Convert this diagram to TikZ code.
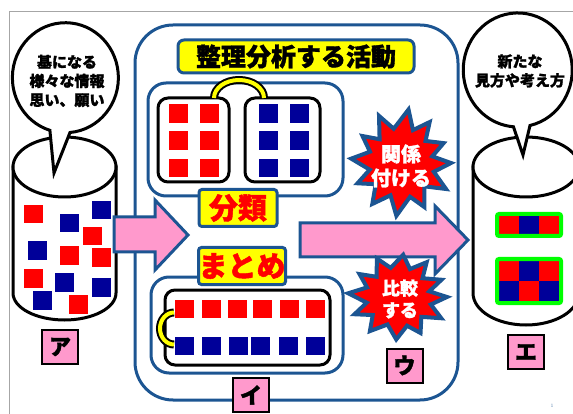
\documentclass[tikz,border=0pt]{standalone}
\usepackage{fontspec}
\newfontfamily\jp{Noto Sans CJK JP}[BoldFeatures={FakeBold=1.5}]
\definecolor{dblue}{HTML}{1C5592}
\definecolor{nblue}{HTML}{000099}
\definecolor{pinkf}{HTML}{FF99CC}
\definecolor{redf}{HTML}{FF0000}
\definecolor{greenf}{HTML}{00FF00}
\definecolor{yell}{HTML}{FFFF00}
\tikzset{
  outline/.style={draw=black,line width=3,fill=white},
  bluebox/.style={draw=dblue,line width=3,rounded corners=18},
  blackbox/.style={draw=black,line width=3,fill=white,rounded corners=10},
  redsq/.style={fill=redf},
  bluesq/.style={fill=nblue},
  yellabel/.style={draw=dblue,line width=3,fill=yell,rounded corners=3,inner sep=0,text=redf,font=\jp\bfseries\fontsize{29}{29}\selectfont},
  pinklabel/.style={draw=black,line width=2,fill=pinkf,minimum width=36,minimum height=34,inner sep=0,font=\jp\bfseries\fontsize{22}{22}\selectfont},
  bubbletext/.style={align=center,font=\jp\bfseries\fontsize{15}{19}\selectfont},
  arrowshape/.style={draw=dblue,line width=3,fill=pinkf,line join=miter},
  burst/.style={draw=dblue,line width=4,fill=redf,line join=miter},
  bursttext/.style={align=center,text=white,font=\jp\bfseries\fontsize{20}{24}\selectfont},
  handle/.style={line width=8,draw=black},
  handlein/.style={line width=4,draw=yell},
}
\begin{document}
\begin{tikzpicture}[x=1pt,y=-1pt]
\useasboundingbox (0,0) rectangle (573,414);
\clip (0,0) rectangle (573,414);
% page frame
\draw[black!35,line width=1] (9,414) -- (9,12) -- (573,12);

% ===== left cylinder =====
\path[outline] (13,167) -- (13,293) arc[start angle=180,end angle=0,x radius=51.5,y radius=27] -- (116,167) -- cycle;
\draw[outline] (64.5,167) ellipse[x radius=51.5,y radius=30];
\foreach \x/\y/\c in {24/205/redsq,60/214/bluesq,92/201/bluesq,83/227/redsq,28/241/bluesq,60/246/redsq,92/248/redsq,24/269/redsq,55/273/bluesq,92/278/bluesq,33/291/bluesq,69/295/redsq}
  \fill[\c] (\x,\y) rectangle ++(18.5,18.5);
% left bubble
\draw[outline] (54,173) -- (70,132.5) arc[start angle=85,end angle=-253,x radius=53,y radius=55] -- cycle;
\node[bubbletext] (btl) at (67,81) {基になる\\様々な情報\\思い、願い};
\node[pinklabel] (la) at (60,347) {ア};

% ===== main box =====
\draw[dblue,line width=3,rounded corners=38] (135,25) rectangle (458,400);
\node[draw=dblue,line width=3,fill=yell,rounded corners=6,minimum width=236,minimum height=33,inner sep=0,font=\jp\bfseries\fontsize{25}{25}\selectfont] (title) at (296,56.5) {整理分析する活動};

% top inner box
\draw[bluebox] (148,83) rectangle (343,196);
\draw[blackbox] (158,98) rectangle (229,182);
\draw[blackbox] (245,98) rectangle (320,182);
\foreach \y in {104.5,131.5,159}{
  \fill[redsq] (169,\y) rectangle ++(18.5,18.5);
  \fill[redsq] (200,\y) rectangle ++(18.5,18.5);
  \fill[bluesq] (259,\y) rectangle ++(18.5,18.5);
  \fill[bluesq] (290,\y) rectangle ++(18.5,18.5);
}
\draw[handle] (214,98) arc[start angle=180,end angle=360,x radius=25,y radius=18];
\draw[handlein] (214,98) arc[start angle=180,end angle=360,x radius=25,y radius=18];

% bottom inner box
\draw[bluebox] (151,277) rectangle (343,373);
\draw[blackbox] (165,290) rectangle (330,365);
\foreach \x in {175,202,228,253,280,306}{
  \fill[redsq] (\x,299.5) rectangle ++(18.5,18.5);
}
\foreach \x in {175,202,229,251,279,306}{
  \fill[bluesq] (\x,336.5) rectangle ++(18.5,18.5);
}
\draw[handle] (174,312.5) arc[start angle=270,end angle=90,x radius=14,y radius=16];
\draw[handlein] (174,312.5) arc[start angle=270,end angle=90,x radius=14,y radius=16];

\node[yellabel,minimum width=78,minimum height=37] (bunrui) at (238,208) {分類};
\node[yellabel,minimum width=84,minimum height=37] (matome) at (242,266) {まとめ};
\node[pinklabel] (li) at (251,395) {イ};

% arrows
\draw[arrowshape] (114,217) -- (155,217) -- (155,200) -- (188,235) -- (155,270) -- (155,252) -- (114,252) -- cycle;
\draw[arrowshape] (300,223) -- (435,223) -- (435,206) -- (468,240) -- (435,274) -- (435,257) -- (300,257) -- cycle;

% bursts
\begin{scope}[shift={(401,163)}]
\draw[burst] (0:50) -- (15:34) -- (30:52) -- (45:33) -- (62:50) -- (75:35) -- (95:53) -- (108:34) -- (125:50) -- (140:33) -- (155:48) -- (168:32) -- (185:50) -- (200:33) -- (215:47) -- (228:32) -- (245:52) -- (258:35) -- (278:54) -- (290:35) -- (305:50) -- (318:33) -- (335:47) -- (348:32) -- cycle;
\end{scope}
\node[bursttext] (kankei) at (401,166) {関係\\付ける};
\begin{scope}[shift={(398,297)},yscale=0.85]
\draw[burst] (0:49) -- (15:34) -- (30:50) -- (45:33) -- (62:48) -- (75:35) -- (92:50) -- (108:34) -- (125:49) -- (140:33) -- (155:48) -- (168:32) -- (185:50) -- (200:33) -- (215:47) -- (228:32) -- (245:50) -- (258:35) -- (276:50) -- (290:35) -- (305:50) -- (318:33) -- (335:48) -- (348:32) -- cycle;
\end{scope}
\node[bursttext,font=\jp\bfseries\fontsize{18}{22}\selectfont] (hikaku) at (400,299) {比較\\する};
\node[pinklabel] (lu) at (404.5,365.5) {ウ};

% ===== right cylinder =====
\path[outline] (473,167) -- (473,293) arc[start angle=180,end angle=0,x radius=53,y radius=32] -- (579,167) -- cycle;
\draw[outline] (526,167) ellipse[x radius=53,y radius=30];
\fill[redsq] (499,216) rectangle (519,234);
\fill[bluesq] (519,216) rectangle (539,234);
\fill[redsq] (539,216) rectangle (559,234);
\draw[greenf,line width=4,rounded corners=2] (497,214) rectangle (561,236);
\fill[redsq] (499,261) rectangle (519,281);
\fill[bluesq] (519,261) rectangle (539,281);
\fill[redsq] (539,261) rectangle (559,281);
\fill[bluesq] (499,281) rectangle (519,301);
\fill[redsq] (519,281) rectangle (539,301);
\fill[bluesq] (539,281) rectangle (559,301);
\draw[greenf,line width=4,rounded corners=2] (497,259) rectangle (561,303);
% right bubble
\draw[outline] (523,155) -- (530,125.5) arc[start angle=77,end angle=-265.5,x radius=54.5,y radius=57] -- cycle;
\node[bubbletext] (btr) at (520,71) {新たな\\見方や考え方};
\node[pinklabel] (le) at (526,352) {エ};

\node[text=dblue!70,font=\fontsize{5}{5}\selectfont] (pg) at (552,406) {1};
\end{tikzpicture}
\end{document}
